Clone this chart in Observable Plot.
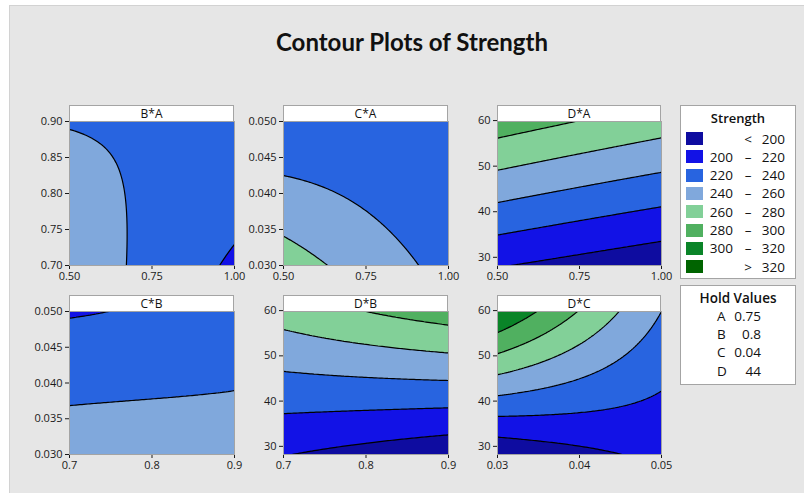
<!DOCTYPE html>
<html>
<head>
<meta charset="utf-8">
<script src="https://cdn.jsdelivr.net/npm/d3@7"></script>
<script src="https://cdn.jsdelivr.net/npm/@observablehq/plot@0.6"></script>
<style>
  html, body { margin: 0; padding: 0; background: #ffffff; }
  #page { position: relative; width: 804px; height: 493px; overflow: hidden; font-family: "Open Sans", "DejaVu Sans", sans-serif; color: #1a1a1a; }
  #bg { position: absolute; left: 9px; top: 5px; width: 795px; height: 488px; background: #e6e6e6; border-left: 1px solid #d2d2d2; border-top: 1px solid #d2d2d2; box-sizing: border-box; }
  #title { position: absolute; left: 212px; width: 400px; top: 27px; height: 30px; line-height: 30px; text-align: center; font-family: "Lato", "Open Sans", sans-serif; font-weight: 700; font-size: 24px; color: #111; }
  .panel { position: absolute; }
  .strip { position: absolute; background: #fff; border: 1px solid #a4a4a4; border-bottom: none; box-sizing: border-box; text-align: center; font-size: 12px; line-height: 15px; color: #111; }
  .box { position: absolute; background: #fff; border: 1px solid #a4a4a4; box-sizing: border-box; }
  .boxtitle { position: absolute; left: 0; width: 100%; text-align: center; font-size: 13px; font-weight: 600; color: #111; }
  .sw { position: absolute; width: 17px; height: 13px; }
  .lt { position: absolute; font-size: 13.5px; line-height: 16px; color: #111; white-space: nowrap; }
  .panel svg { overflow: visible; }
</style>
</head>
<body>
<div id="page">
  <div id="bg"></div>
  <div id="title">Contour Plots of Strength</div>
</div>
<script>
// ---------------- data ----------------
const thresholds = [200, 220, 240, 260, 280, 300, 320];
const bandColors = ["#0e0ca0", "#1212e6", "#2864e0", "#80a8dc", "#82d098", "#50b060", "#0a8428", "#006400"];
const bandLow = ["", "200", "220", "240", "260", "280", "300", ""];
const bandSymbol = ["<", "–", "–", "–", "–", "–", "–", ">"];
const bandHigh = ["200", "220", "240", "260", "280", "300", "320", "320"];

const levelsA = [0.5, 0.75, 1.0];
const levelsB = [0.7, 0.8, 0.9];
const levelsC = [0.03, 0.04, 0.05];
const levelsD = [28.2, 44, 59.8];

const ticksA = [0.5, 0.75, 1.0];
const ticksB = [0.7, 0.8, 0.9];
const ticksByB = [0.70, 0.75, 0.80, 0.85, 0.90];
const ticksC = [0.03, 0.04, 0.05];
const ticksByC = [0.030, 0.035, 0.040, 0.045, 0.050];
const ticksD = [30, 40, 50, 60];

// Strength at the low / mid / high level of each factor
// rows: y-factor levels (low -> high), columns: x-factor levels (low -> high)
const strengthBA = [[252.2, 234.5, 216.8], [246.5, 236.8, 227.1], [239.1, 237.4, 235.8]];
const strengthCA = [[269.7, 251.6, 233.5], [245.9, 236.8, 227.1], [222.3, 226.0, 224.0]];
const strengthDA = [[201.3, 193.5, 186.0], [245.6, 236.2, 227.7], [290.4, 279.5, 269.5]];
const strengthCB = [[251.3, 251.2, 248.3], [234.8, 236.8, 239.0], [218.5, 222.5, 229.6]];
const strengthDB = [[200.8, 193.2, 185.3], [234.5, 236.6, 238.2], [268.6, 280.0, 289.7]];
const strengthDC = [[183.1, 195.0, 204.0], [252.1, 237.5, 222.0], [319.9, 279.0, 240.0]];

const holdFactors = ["A", "B", "C", "D"];
const holdValues = ["0.75", "0.8", "0.04", "44"];

// ---------------- layout ----------------
const ML = 48, MR = 4, MB = 26;
const panels = [
  {name: "B*A", xs: levelsA, ys: levelsB, grid: strengthBA, xt: ticksA, yt: ticksByB, xf: 2, yf: 2, left: 69, top: 121, w: 165, h: 144},
  {name: "C*A", xs: levelsA, ys: levelsC, grid: strengthCA, xt: ticksA, yt: ticksByC, xf: 2, yf: 3, left: 283, top: 121, w: 165, h: 144},
  {name: "D*A", xs: levelsA, ys: levelsD, grid: strengthDA, xt: ticksA, yt: ticksD, xf: 2, yf: 0, left: 497, top: 121, w: 164, h: 144},
  {name: "C*B", xs: levelsB, ys: levelsC, grid: strengthCB, xt: ticksB, yt: ticksByC, xf: 1, yf: 3, left: 69, top: 311, w: 165, h: 143},
  {name: "D*B", xs: levelsB, ys: levelsD, grid: strengthDB, xt: ticksB, yt: ticksD, xf: 1, yf: 0, left: 283, top: 311, w: 165, h: 143},
  {name: "D*C", xs: levelsC, ys: levelsD, grid: strengthDC, xt: ticksC, yt: ticksD, xf: 2, yf: 0, left: 497, top: 311, w: 164, h: 143}
];

// Quadratic (3x3 Lagrange) surface through the grid samples, used by Plot.contour
function lagrange(index, width, height, X, Y, V) {
  let x0 = Infinity, x1 = -Infinity, y0 = Infinity, y1 = -Infinity;
  for (const i of index) {
    x0 = Math.min(x0, X[i]); x1 = Math.max(x1, X[i]);
    y0 = Math.min(y0, Y[i]); y1 = Math.max(y1, Y[i]);
  }
  const g = [[0, 0, 0], [0, 0, 0], [0, 0, 0]];
  for (const i of index) {
    const c = Math.round((X[i] - x0) / (x1 - x0) * 2);
    const r = Math.round((Y[i] - y0) / (y1 - y0) * 2);
    g[r][c] = V[i];
  }
  const L = t => [t * (t - 1) / 2, 1 - t * t, t * (t + 1) / 2];
  const out = new Float64Array(width * height);
  for (let py = 0; py < height; py++) {
    const lv = L((py + 0.5 - y0) / (y1 - y0) * 2 - 1);
    const row = [0, 1, 2].map(c => lv[0] * g[0][c] + lv[1] * g[1][c] + lv[2] * g[2][c]);
    for (let px = 0; px < width; px++) {
      const lu = L((px + 0.5 - x0) / (x1 - x0) * 2 - 1);
      out[py * width + px] = lu[0] * row[0] + lu[1] * row[1] + lu[2] * row[2];
    }
  }
  return out;
}

const page = document.getElementById("page");

function makePanel(p) {
  const samples = [];
  p.ys.forEach((y, j) => p.xs.forEach((x, i) => samples.push({x, y, v: p.grid[j][i]})));
  const xa = p.xs[0], xb = p.xs[2], ya = p.ys[0], yb = p.ys[2];
  const ex = (xb - xa) * 0.04, ey = (yb - ya) * 0.04;
  const bounds = {x1: xa - ex, x2: xb + ex, y1: yb + ey, y2: ya - ey};
  const chart = Plot.plot({
    width: ML + p.w + MR,
    height: p.h + MB,
    marginLeft: ML, marginRight: MR, marginTop: 0, marginBottom: MB,
    style: {fontFamily: "'Open Sans', sans-serif", fontSize: "11px", color: "#1a1a1a", background: "transparent", overflow: "visible"},
    x: {domain: [xa, xb], ticks: p.xt, tickFormat: d => d.toFixed(p.xf), tickSize: 4, tickPadding: 3, label: null},
    y: {domain: [ya, yb], ticks: p.yt, tickFormat: d => d.toFixed(p.yf), tickSize: 4, tickPadding: 3, label: null},
    color: {type: "ordinal", domain: [0, ...thresholds], range: bandColors},
    marks: [
      Plot.frame({fill: bandColors[0]}),
      Plot.contour(samples, {x: "x", y: "y", fill: "v", thresholds: [0, ...thresholds], interpolate: lagrange, ...bounds, clip: true}),
      Plot.contour(samples, {x: "x", y: "y", value: "v", thresholds, interpolate: lagrange, fill: "none", stroke: "#000", strokeWidth: 1.2, ...bounds, clip: true}),
      Plot.frame({stroke: "#a4a4a4"})
    ]
  });
  const holder = document.createElement("div");
  holder.className = "panel";
  holder.style.left = (p.left - ML) + "px";
  holder.style.top = p.top + "px";
  holder.appendChild(chart);
  page.appendChild(holder);

  const strip = document.createElement("div");
  strip.className = "strip";
  strip.style.left = p.left + "px";
  strip.style.top = (p.top - 16) + "px";
  strip.style.width = p.w + "px";
  strip.style.height = "16px";
  strip.textContent = p.name;
  page.appendChild(strip);
}
panels.forEach(makePanel);

// Legend box
const legend = document.createElement("div");
legend.className = "box";
Object.assign(legend.style, {left: "680px", top: "105px", width: "116px", height: "174px"});
page.appendChild(legend);
const lt = document.createElement("div");
lt.className = "boxtitle";
lt.style.top = "3px";
lt.textContent = "Strength";
legend.appendChild(lt);
bandColors.forEach((col, k) => {
  const top = 26 + k * 18.3;
  const sw = document.createElement("div");
  sw.className = "sw";
  Object.assign(sw.style, {left: "5px", top: top + "px", background: col});
  legend.appendChild(sw);
  const lo = document.createElement("div");
  lo.className = "lt";
  Object.assign(lo.style, {right: (116 - 54) + "px", top: (top - 1.5) + "px", textAlign: "right"});
  lo.textContent = bandLow[k];
  legend.appendChild(lo);
  const sy = document.createElement("div");
  sy.className = "lt";
  Object.assign(sy.style, {left: "60px", width: "14px", top: (top - 1.5) + "px", textAlign: "center"});
  sy.textContent = bandSymbol[k];
  legend.appendChild(sy);
  const hi = document.createElement("div");
  hi.className = "lt";
  Object.assign(hi.style, {right: "10px", top: (top - 1.5) + "px", textAlign: "right"});
  hi.textContent = bandHigh[k];
  legend.appendChild(hi);
});

// Hold values box
const hold = document.createElement("div");
hold.className = "box";
Object.assign(hold.style, {left: "680px", top: "285px", width: "116px", height: "100px"});
page.appendChild(hold);
const ht = document.createElement("div");
ht.className = "boxtitle";
ht.style.top = "3px";
ht.style.fontSize = "13.5px";
ht.textContent = "Hold Values";
hold.appendChild(ht);
holdFactors.forEach((f, k) => {
  const top = 22 + k * 18.2;
  const a = document.createElement("div");
  a.className = "lt";
  Object.assign(a.style, {left: "36px", top: top + "px"});
  a.textContent = f;
  hold.appendChild(a);
  const b = document.createElement("div");
  b.className = "lt";
  Object.assign(b.style, {right: (116 - 82) + "px", top: top + "px", textAlign: "right"});
  b.textContent = holdValues[k];
  hold.appendChild(b);
});
</script>
</body>
</html>
